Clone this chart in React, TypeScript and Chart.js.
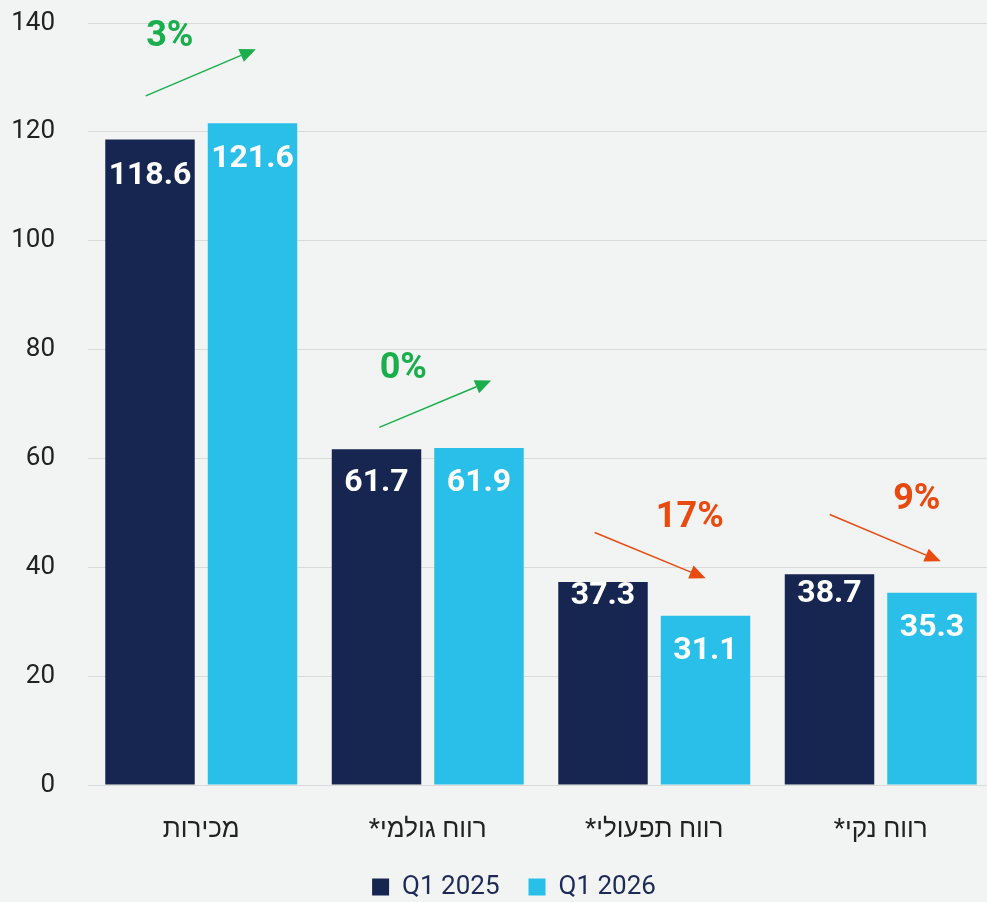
import React, { useEffect, useRef } from "react";
import { Chart, registerables } from "chart.js";

Chart.register(...registerables);

const categories = ["מכירות", "רווח גולמי*", "רווח תפעולי*", "רווח נקי*"];
const seriesNames = ["Q1 2025", "Q1 2026"];
const q1_2025 = [118.6, 61.7, 37.3, 38.7];
const q1_2026 = [121.6, 61.9, 31.1, 35.3];
const changeLabels = ["3%", "0%", "17%", "9%"];
const changeUp = [true, true, false, false];
const yTicks = [0, 20, 40, 60, 80, 100, 120, 140];

// annotation placement (category-fraction offsets, value units)
const arrowStartDx = [-0.245, -0.214, -0.263, -0.225];
const arrowEndDx = [0.241, 0.28, 0.227, 0.265];
const arrowStartY = [126.6, 65.7, 46.4, 49.7];
const arrowEndY = [135.2, 74.3, 38.0, 41.1];
const textDx = [-0.139, -0.108, 0.157, 0.159];
const textY = [137.4, 76.5, 49, 52.3];
const labelOffsets = [
  [37, 34, 14, 20],
  [36, 35, 35, 35],
];

const DARK = "#172651";
const LIGHT = "#29bfe8";
const GREEN = "#1aae4c";
const RED = "#e84a0f";
const BG = "#f2f4f3";
const FONT = "Roboto, 'Liberation Sans', 'DejaVu Sans', sans-serif";

const annotPlugin = {
  id: "annot",
  afterLayout(chart: any) {
    // let the y tick labels extend left of the layout padding without clipping
    chart.scales.y.left = 0;
  },
  afterDatasetsDraw(chart: any) {
    const ctx = chart.ctx;
    const x = chart.scales.x;
    const y = chart.scales.y;
    ctx.save();
    ctx.font = `bold 32px ${FONT}`;
    ctx.fillStyle = "#ffffff";
    ctx.textAlign = "center";
    ctx.textBaseline = "middle";
    chart.data.datasets.forEach((ds: any, di: number) => {
      const meta = chart.getDatasetMeta(di);
      meta.data.forEach((bar: any, i: number) => {
        ctx.fillText(ds.data[i].toFixed(1), bar.x, bar.y + labelOffsets[di][i]);
      });
    });
    categories.forEach((_, i) => {
      const color = changeUp[i] ? GREEN : RED;
      const x0 = x.getPixelForValue(i + arrowStartDx[i]);
      const y0 = y.getPixelForValue(arrowStartY[i]);
      const x1 = x.getPixelForValue(i + arrowEndDx[i]);
      const y1 = y.getPixelForValue(arrowEndY[i]);
      const ang = Math.atan2(y1 - y0, x1 - x0);
      const head = 16;
      const hw = 7;
      ctx.strokeStyle = color;
      ctx.fillStyle = color;
      ctx.lineWidth = 1.5;
      const bx = x1 - head * Math.cos(ang);
      const by = y1 - head * Math.sin(ang);
      ctx.beginPath();
      ctx.moveTo(x0, y0);
      ctx.lineTo(bx, by);
      ctx.stroke();
      ctx.beginPath();
      ctx.moveTo(x1, y1);
      ctx.lineTo(bx + hw * Math.sin(ang), by - hw * Math.cos(ang));
      ctx.lineTo(bx - hw * Math.sin(ang), by + hw * Math.cos(ang));
      ctx.closePath();
      ctx.fill();
      ctx.font = `bold 36px ${FONT}`;
      ctx.fillText(changeLabels[i], x.getPixelForValue(i + textDx[i]), y.getPixelForValue(textY[i]));
    });
    ctx.restore();
  },
};

export default function App() {
  const ref = useRef<HTMLCanvasElement>(null);
  useEffect(() => {
    if (!ref.current) return;
    const chart = new Chart(ref.current, {
      type: "bar",
      data: {
        labels: categories,
        datasets: [
          { label: seriesNames[0], data: q1_2025, backgroundColor: DARK, borderWidth: 0 },
          { label: seriesNames[1], data: q1_2026, backgroundColor: LIGHT, borderWidth: 0 },
        ],
      },
      options: {
        animation: false,
        responsive: true,
        maintainAspectRatio: false,
        layout: { padding: { left: 34, top: 23, right: 0, bottom: -8 } },
        datasets: { bar: { categoryPercentage: 0.905, barPercentage: 0.873 } } as any,
        scales: {
          x: {
            grid: { display: false },
            border: { display: false },
            ticks: {
              color: "#222",
              font: { family: FONT, size: 26 },
              padding: 22,
              callback: (_v: any, i: number) => categories[i] + "\u200F",
            },
            afterFit: (axis: any) => {
              axis.height = 60;
            },
          },
          y: {
            min: 0,
            max: 140,
            afterBuildTicks: (axis: any) => {
              axis.ticks = yTicks.map((v) => ({ value: v }));
            },
            afterFit: (axis: any) => {
              axis.width = 54;
              axis.paddingTop = 0;
              axis.paddingBottom = 0;
            },
            grid: { color: "#d9dbdb", drawTicks: false, lineWidth: 1 },
            border: { display: false },
            ticks: { color: "#222", font: { family: FONT, size: 26 }, padding: 33 },
          },
        },
        plugins: {
          legend: {
            position: "bottom",
            labels: {
              boxWidth: 17,
              boxHeight: 17,
              color: "#1c2a55",
              font: { family: FONT, size: 26 },
              padding: 29,
            },
          },
          tooltip: { enabled: false },
        },
      },
      plugins: [annotPlugin],
    });
    return () => chart.destroy();
  }, []);
  return (
    <div
      style={{
        position: "fixed",
        left: 0,
        top: 0,
        width: 994,
        height: 902,
        background: BG,
      }}
    >
      <canvas ref={ref} />
    </div>
  );
}
